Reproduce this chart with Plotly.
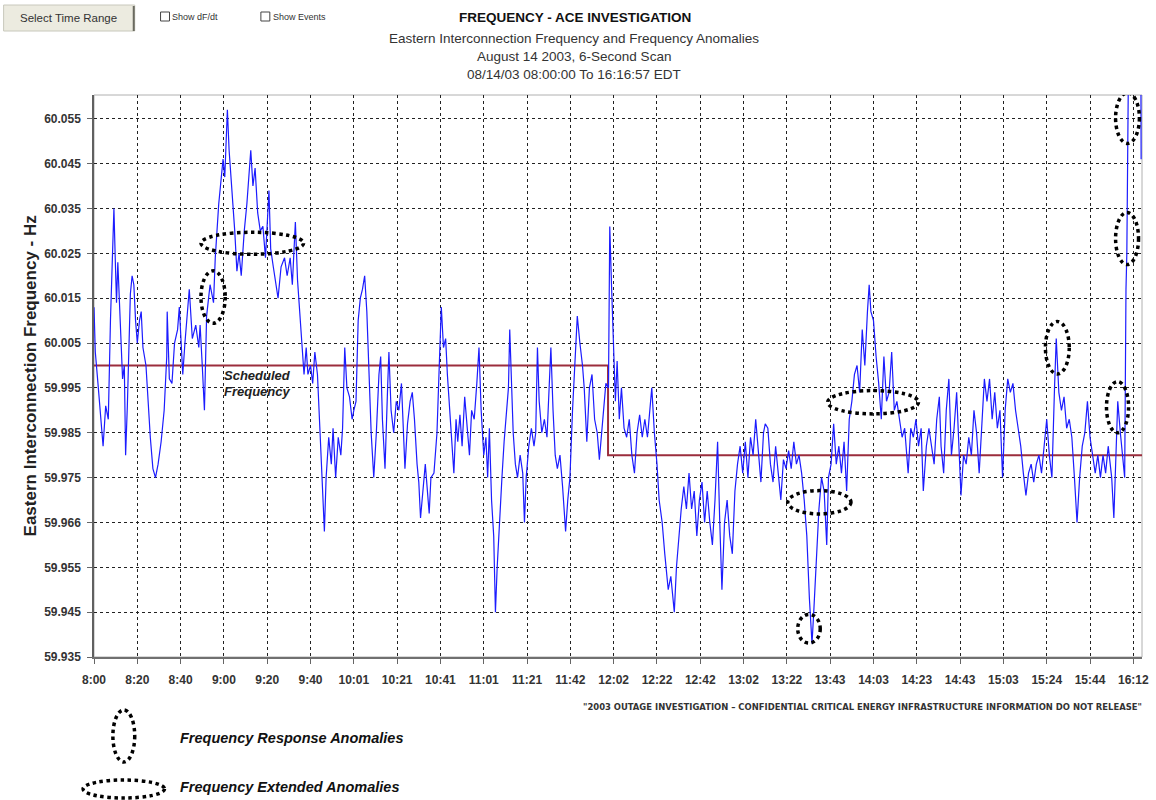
import plotly.graph_objects as go

# ---------------- data ----------------
x_tick_labels = ["8:00", "8:20", "8:40", "9:00", "9:20", "9:40", "10:01", "10:21", "10:41",
                 "11:01", "11:21", "11:42", "12:02", "12:22", "12:42", "13:02", "13:22",
                 "13:43", "14:03", "14:23", "14:43", "15:03", "15:24", "15:44", "16:12"]
y_tick_values = [59.935, 59.945, 59.955, 59.965, 59.975, 59.985, 59.995,
                 60.005, 60.015, 60.025, 60.035, 60.045, 60.055]
y_tick_labels = ["59.935", "59.945", "59.955", "59.966", "59.975", "59.985", "59.995",
                 "60.005", "60.015", "60.025", "60.035", "60.045", "60.055"]

# time position in units of the axis label interval (0 = 8:00 ... 24 = 16:12)
t_pos = [
    0.00, 0.03, 0.10, 0.21, 0.27, 0.33, 0.38, 0.44, 0.46, 0.49,
    0.52, 0.55, 0.60, 0.66, 0.70, 0.73, 0.77, 0.80, 0.84, 0.88,
    0.92, 0.96, 1.00, 1.05, 1.09, 1.13, 1.20, 1.30, 1.36, 1.42,
    1.48, 1.55, 1.62, 1.68, 1.69, 1.74, 1.80, 1.86, 1.93, 1.97,
    2.05, 2.10, 2.20, 2.27, 2.35, 2.42, 2.45, 2.50, 2.55, 2.60,
    2.68, 2.76, 2.80, 2.88, 2.93, 2.98, 3.02, 3.08, 3.12, 3.18,
    3.25, 3.30, 3.35, 3.40, 3.47, 3.53, 3.62, 3.67, 3.72, 3.78,
    3.84, 3.90, 3.96, 4.04, 4.08, 4.14, 4.25, 4.32, 4.40, 4.46,
    4.53, 4.58, 4.65, 4.70, 4.76, 4.80, 4.85, 4.90, 4.94, 5.00,
    5.05, 5.10, 5.16, 5.22, 5.28, 5.32, 5.36, 5.42, 5.48, 5.52,
    5.58, 5.64, 5.70, 5.74, 5.79, 5.84, 5.90, 5.96,
    6.00, 6.05, 6.10, 6.15, 6.20, 6.25, 6.30, 6.36, 6.40, 6.46,
    6.52, 6.58, 6.62, 6.66, 6.72, 6.78, 6.81, 6.86, 6.92, 6.98,
    7.04, 7.10, 7.15, 7.18, 7.24, 7.30, 7.35, 7.40, 7.46, 7.50,
    7.54, 7.60, 7.65, 7.74, 7.78, 7.85, 7.92, 7.98, 8.02, 8.07,
    8.12, 8.16, 8.22, 8.28, 8.31, 8.36, 8.40, 8.45, 8.50, 8.56,
    8.62, 8.67, 8.72, 8.78, 8.84, 8.89, 8.94, 9.00, 9.05, 9.09,
    9.13, 9.18, 9.23, 9.27, 9.31, 9.36, 9.42, 9.47, 9.52, 9.57,
    9.60, 9.64, 9.68, 9.73, 9.78, 9.84, 9.90, 9.94, 9.98, 10.04,
    10.10, 10.16, 10.20, 10.24, 10.28, 10.34, 10.40, 10.46, 10.50, 10.55,
    10.60, 10.65, 10.70, 10.76, 10.82, 10.86, 10.89, 10.94, 10.99, 11.05,
    11.10, 11.16, 11.22, 11.28, 11.32, 11.38, 11.44, 11.50, 11.56, 11.62,
    11.67, 11.72, 11.77, 11.82, 11.88, 11.91, 11.95, 12.00,
    12.04, 12.08, 12.13, 12.18, 12.24, 12.30, 12.36, 12.42, 12.48, 12.54,
    12.60, 12.66, 12.72, 12.78, 12.83, 12.88, 12.94, 13.00, 13.05, 13.12,
    13.18, 13.26, 13.32, 13.36, 13.40, 13.45, 13.50, 13.56, 13.62, 13.68,
    13.74, 13.80, 13.86, 13.92, 13.98, 14.04, 14.10, 14.16, 14.22, 14.28,
    14.34, 14.40, 14.45, 14.50, 14.56, 14.62, 14.68, 14.74, 14.80, 14.86,
    14.92, 14.98, 15.04, 15.10, 15.16, 15.22, 15.28, 15.34, 15.40, 15.46,
    15.50, 15.56, 15.62, 15.68, 15.74, 15.80, 15.86, 15.92, 15.98, 16.04,
    16.10, 16.16, 16.22, 16.28, 16.34, 16.40, 16.46, 16.52, 16.58, 16.62,
    16.68, 16.74, 16.80, 16.86, 16.92, 16.96, 17.02, 17.08, 17.14, 17.20,
    17.26, 17.32, 17.38, 17.44, 17.50, 17.56, 17.62, 17.68, 17.74, 17.80,
    17.86, 17.90, 17.94, 18.00, 18.06, 18.12, 18.18,
    18.22, 18.24, 18.30, 18.36, 18.42, 18.48, 18.54, 18.60, 18.66, 18.72,
    18.80, 18.86, 18.92, 18.98, 19.04, 19.10, 19.15, 19.22, 19.28, 19.34,
    19.40, 19.46, 19.52, 19.56, 19.62, 19.68, 19.74, 19.80, 19.86, 19.92,
    19.98, 20.02, 20.08, 20.14, 20.20, 20.26, 20.32, 20.38, 20.44, 20.50,
    20.56, 20.62, 20.68, 20.74, 20.80, 20.86, 20.92, 20.98, 21.04, 21.10,
    21.16, 21.22, 21.28, 21.34, 21.40, 21.46, 21.52, 21.58, 21.64, 21.70,
    21.76, 21.82, 21.88, 21.94, 22.00, 22.06, 22.12, 22.18, 22.22, 22.28,
    22.34, 22.40, 22.46, 22.52, 22.58, 22.64, 22.70, 22.76, 22.82, 22.88,
    22.94, 23.00, 23.06, 23.12, 23.18, 23.24, 23.30, 23.36, 23.42, 23.50,
    23.55, 23.60, 23.64, 23.70, 23.76, 23.80, 23.83, 23.85, 23.89, 24.17,
    24.18,
]

freq_hz = [
    60.013, 60.003, 59.995, 59.982, 59.991, 59.988, 60.010, 60.027, 60.035, 60.024,
    60.014, 60.023, 60.010, 59.997, 60.000, 59.980, 59.991, 60.004, 60.016, 60.020,
    60.018, 60.010, 60.005, 60.010, 60.012, 60.004, 60.000, 59.984, 59.977, 59.975,
    59.978, 59.983, 59.990, 60.002, 60.012, 59.997, 59.996, 60.005, 60.008, 60.013,
    59.998, 60.005, 60.017, 60.006, 60.009, 60.004, 60.009, 60.000, 59.990, 60.011,
    60.018, 60.014, 60.024, 60.036, 60.041, 60.046, 60.042, 60.057, 60.048, 60.040,
    60.030, 60.021, 60.025, 60.020, 60.030, 60.036, 60.048, 60.040, 60.044, 60.034,
    60.030, 60.031, 60.024, 60.039, 60.026, 60.022, 60.015, 60.022, 60.024, 60.020,
    60.024, 60.018, 60.032, 60.019, 60.010, 60.003, 59.998, 60.004, 59.998, 60.000,
    59.996, 60.003, 59.998, 59.985, 59.972, 59.963, 59.975, 59.984, 59.978, 59.986,
    59.975, 59.984, 59.980, 59.986, 60.004, 59.995, 59.993, 59.988,
    59.990, 59.992, 60.010, 60.015, 60.017, 60.020, 60.012, 59.995, 59.985, 59.975,
    59.985, 59.998, 60.002, 59.988, 59.977, 59.995, 60.003, 59.990, 59.985, 59.992,
    59.990, 59.996, 59.983, 59.977, 59.987, 59.992, 59.994, 59.988, 59.978, 59.974,
    59.966, 59.972, 59.978, 59.967, 59.975, 59.976, 59.985, 60.002, 60.013, 60.004,
    60.006, 59.998, 59.990, 59.982, 59.976, 59.988, 59.983, 59.989, 59.982, 59.993,
    59.985, 59.980, 59.990, 59.988, 59.996, 60.004, 59.990, 59.980, 59.984, 59.975,
    59.986, 59.970, 59.962, 59.945, 59.955, 59.965, 59.975, 59.983, 59.990, 59.995,
    60.008, 59.995, 59.985, 59.978, 59.975, 59.980, 59.976, 59.965, 59.975, 59.982,
    59.986, 59.982, 59.985, 60.004, 59.992, 59.985, 59.988, 59.984, 59.992, 60.004,
    59.990, 59.980, 59.977, 59.980, 59.973, 59.966, 59.963, 59.970, 59.975, 59.990,
    60.000, 60.011, 60.005, 60.000, 59.995, 59.983, 59.995, 59.998, 59.988, 59.985,
    59.979, 59.985, 59.990, 59.996, 59.995, 60.031, 60.018, 60.005,
    59.992, 60.001, 59.988, 59.995, 59.986, 59.984, 59.988, 59.980, 59.976, 59.985,
    59.989, 59.984, 59.988, 59.984, 59.990, 59.995, 59.985, 59.978, 59.970, 59.965,
    59.958, 59.950, 59.953, 59.949, 59.945, 59.955, 59.962, 59.968, 59.973, 59.968,
    59.976, 59.968, 59.972, 59.962, 59.970, 59.974, 59.965, 59.972, 59.965, 59.960,
    59.970, 59.983, 59.965, 59.950, 59.965, 59.970, 59.962, 59.958, 59.972, 59.978,
    59.982, 59.976, 59.983, 59.975, 59.984, 59.980, 59.988, 59.980, 59.974, 59.985,
    59.987, 59.986, 59.978, 59.974, 59.982, 59.976, 59.970, 59.979, 59.977, 59.981,
    59.977, 59.983, 59.978, 59.980, 59.976, 59.970, 59.962, 59.948, 59.938, 59.945,
    59.958, 59.968, 59.975, 59.972, 59.960, 59.975, 59.978, 59.987, 59.978, 59.982,
    59.976, 59.983, 59.972, 59.988, 59.992, 59.998, 60.000, 59.994, 60.008, 60.000,
    60.012, 60.018, 60.012, 60.010, 60.002, 59.996, 59.988,
    59.996, 60.002, 59.992, 59.994, 60.003, 59.990, 59.992, 59.988, 59.984, 59.986,
    59.976, 59.986, 59.984, 59.988, 59.982, 59.986, 59.972, 59.982, 59.986, 59.982,
    59.978, 59.988, 59.993, 59.982, 59.976, 59.990, 59.997, 59.980, 59.986, 59.994,
    59.978, 59.971, 59.980, 59.978, 59.984, 59.980, 59.990, 59.985, 59.976, 59.988,
    59.997, 59.992, 59.997, 59.988, 59.994, 59.986, 59.990, 59.975, 59.990, 59.997,
    59.994, 59.996, 59.990, 59.986, 59.982, 59.976, 59.971, 59.976, 59.978, 59.974,
    59.978, 59.980, 59.976, 59.982, 59.988, 59.980, 59.975, 59.995, 60.006, 59.994,
    59.990, 59.993, 59.986, 59.988, 59.984, 59.975, 59.965, 59.975, 59.982, 59.985,
    59.992, 59.984, 59.980, 59.976, 59.980, 59.975, 59.980, 59.976, 59.982, 59.975,
    59.966, 59.980, 59.992, 59.985, 59.978, 59.975, 60.017, 60.025, 60.070, 60.080,
    60.046,
]
assert len(t_pos) == len(freq_hz)

sched_pos = [0.0, 11.87, 11.87, 24.2]
sched_hz = [60.000, 60.000, 59.980, 59.980]

# anomaly ovals: (x0, x1, y0, y1) in data units
response_ovals = [
    (2.47, 3.03, 60.0094, 60.0211),
    (16.25, 16.77, 59.9381, 59.9445),
    (21.97, 22.52, 59.9981, 60.0098),
    (23.38, 23.89, 59.9850, 59.9964),
    (23.59, 24.14, 60.0495, 60.0608),
    (23.59, 24.12, 60.0225, 60.0341),
]
extended_ovals = [
    (2.47, 4.84, 60.0248, 60.0297),
    (16.02, 17.48, 59.9669, 59.9721),
    (16.94, 19.04, 59.9892, 59.9944),
]

# ---------------- layout helpers ----------------
W, H = 1156, 800
ML, MR, MT, MB = 94, 7, 95, 143
PW, PH = W - ML - MR, H - MT - MB


def pxx(x):
    return (x - ML) / PW


def pxy(y):
    return (H - MB - y) / PH


FONT = "Arial, Liberation Sans, sans-serif"

fig = go.Figure()

fig.add_trace(go.Scatter(
    x=sched_pos, y=sched_hz, mode="lines",
    line=dict(color="#9b2d3c", width=2), hoverinfo="skip", showlegend=False))
fig.add_trace(go.Scatter(
    x=t_pos, y=freq_hz, mode="lines",
    line=dict(color="#1c1cff", width=1.2), hoverinfo="skip", showlegend=False))

shapes = []
for (x0, x1, y0, y1) in response_ovals + extended_ovals:
    shapes.append(dict(type="circle", xref="x", yref="y", x0=x0, x1=x1, y0=y0, y1=y1,
                       line=dict(color="black", width=3.5, dash="dot")))

# plot frame (light)
shapes.append(dict(type="rect", xref="paper", yref="paper", x0=0, x1=1, y0=0, y1=1,
                   line=dict(color="#b0b0b0", width=1), layer="below"))

# legend ovals
shapes.append(dict(type="circle", xref="paper", yref="paper",
                   x0=pxx(113), x1=pxx(135), y0=pxy(762), y1=pxy(710),
                   line=dict(color="black", width=3.5, dash="dot")))
shapes.append(dict(type="circle", xref="paper", yref="paper",
                   x0=pxx(83), x1=pxx(165), y0=pxy(798), y1=pxy(780),
                   line=dict(color="black", width=3.5, dash="dot")))

# button (with 3D edge) + checkboxes
shapes.append(dict(type="rect", xref="paper", yref="paper",
                   x0=pxx(3), x1=pxx(135), y0=pxy(31), y1=pxy(5),
                   line=dict(color="#c8c8bc", width=1), fillcolor="#ecebe0"))
shapes.append(dict(type="line", xref="paper", yref="paper",
                   x0=pxx(134), x1=pxx(134), y0=pxy(31), y1=pxy(6),
                   line=dict(color="#6a6a60", width=2)))
shapes.append(dict(type="rect", xref="paper", yref="paper",
                   x0=pxx(161), x1=pxx(170), y0=pxy(21), y1=pxy(12),
                   line=dict(color="#444", width=1), fillcolor="white"))
shapes.append(dict(type="rect", xref="paper", yref="paper",
                   x0=pxx(262), x1=pxx(271), y0=pxy(21), y1=pxy(12),
                   line=dict(color="#444", width=1), fillcolor="white"))

annotations = []


def txt(text, x, y, size, xanchor="center", color="#222", family=FONT, yanchor="middle", angle=0):
    annotations.append(dict(text=text, x=pxx(x), y=pxy(y), xref="paper", yref="paper",
                            xanchor=xanchor, yanchor=yanchor, showarrow=False,
                            textangle=angle, borderpad=0,
                            font=dict(size=size, color=color, family=family)))


txt("Select Time Range", 68, 18, 11.5, color="#333")
txt("Show dF/dt", 172, 17, 9, xanchor="left", color="#333")
txt("Show Events", 273, 17, 9, xanchor="left", color="#333")

txt("<b>FREQUENCY - ACE INVESTIGATION</b>", 578, 18, 13.5, color="#111")
txt("Eastern Interconnection Frequency and Frequency Anomalies", 577, 38, 13.5, color="#333")
txt("August 14 2003, 6-Second Scan", 577, 56, 13.5, color="#333")
txt("08/14/03 08:00:00 To 16:16:57 EDT", 577, 74, 13.5, color="#333")

txt("<b><i>Scheduled</i></b>", 224, 375, 13, xanchor="left", color="#222")
txt("<b><i>Frequency</i></b>", 224, 391, 13, xanchor="left", color="#222")

txt("<b>Eastern Interconnection Frequency - Hz</b>", 30, 376, 17, angle=-90, color="#222")

txt("<b>\"2003 OUTAGE INVESTIGATION \u2013 CONFIDENTIAL CRITICAL ENERGY INFRASTRUCTURE INFORMATION DO NOT RELEASE\"</b>",
    1150, 706, 9.4, xanchor="right", color="#333",
    family="Liberation Sans Narrow, Arial Narrow, DejaVu Sans Condensed, sans-serif")

txt("<b><i>Frequency Response Anomalies</i></b>", 180, 738, 14.5, xanchor="left", color="#111")
txt("<b><i>Frequency Extended Anomalies</i></b>", 180, 787, 14.5, xanchor="left", color="#111")

fig.update_layout(
    width=W, height=H,
    margin=dict(l=ML, r=MR, t=MT, b=MB, pad=0),
    paper_bgcolor="white", plot_bgcolor="white",
    showlegend=False,
    shapes=shapes,
    annotations=annotations,
    font=dict(family=FONT),
    xaxis=dict(
        range=[0, 24.2], tickmode="array", tickvals=list(range(len(x_tick_labels))),
        ticktext=["<b>" + t + "</b>" for t in x_tick_labels],
        tickfont=dict(size=12, color="#333", family=FONT),
        showgrid=True, gridcolor="#222", gridwidth=1, griddash="3px,3px",
        ticks="outside", ticklen=5, tickcolor="#666",
        ticklabelstandoff=6,
        showline=True, linecolor="#707070", linewidth=2, zeroline=False,
        fixedrange=True),
    yaxis=dict(
        range=[59.935, 60.0603], tickmode="array", tickvals=y_tick_values,
        ticktext=["<b>" + t + "</b>" for t in y_tick_labels],
        tickfont=dict(size=12, color="#333", family=FONT),
        showgrid=True, gridcolor="#222", gridwidth=1, griddash="3px,3px",
        ticks="outside", ticklen=5, tickcolor="#666",
        ticklabelstandoff=4,
        showline=True, linecolor="#606060", linewidth=1.5, zeroline=False,
        fixedrange=True),
)

fig.write_html(
    "out.html",
    config={"displayModeBar": False},
    post_script="document.body.style.margin='0px';document.body.style.overflow='hidden';",
)
